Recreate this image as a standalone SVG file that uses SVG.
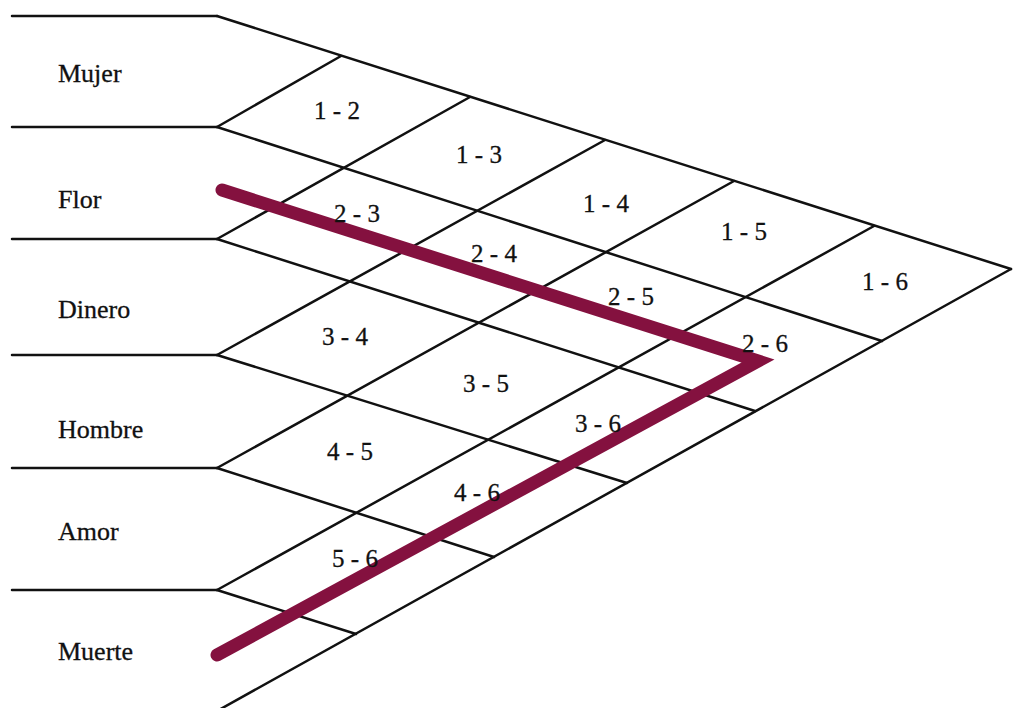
<svg xmlns="http://www.w3.org/2000/svg" width="1013" height="708" viewBox="0 0 1013 708">
<style>
.g line{stroke:#111;stroke-width:2.5;stroke-linecap:round}
.path{fill:none;stroke:#84113f;stroke-width:13;stroke-linecap:round;stroke-linejoin:miter;stroke-miterlimit:10}
.n{font-family:"Liberation Serif","Times New Roman",serif;font-size:26px;fill:#111;stroke:#111;stroke-width:0.3}
.c{font-family:"Liberation Serif","Times New Roman",serif;font-size:25px;fill:#111;stroke:#111;stroke-width:0.3;text-anchor:middle}
</style>
<rect width="1013" height="708" fill="#fff"/>
<g id="connectors" class="g">
<line x1="12" y1="16" x2="217" y2="16"/>
<line x1="12" y1="127" x2="217" y2="127"/>
<line x1="12" y1="239" x2="217" y2="239"/>
<line x1="12" y1="355" x2="217" y2="355"/>
<line x1="12" y1="468" x2="217" y2="468"/>
<line x1="12" y1="590" x2="217" y2="590"/>
<line x1="217" y1="16" x2="1011" y2="269"/>
<line x1="217" y1="127" x2="882" y2="341"/>
<line x1="217" y1="239" x2="755" y2="411"/>
<line x1="217" y1="355" x2="627" y2="483"/>
<line x1="217" y1="468" x2="494" y2="557"/>
<line x1="217" y1="590" x2="356" y2="634"/>
<line x1="217" y1="127" x2="341" y2="56"/>
<line x1="217" y1="239" x2="470" y2="97"/>
<line x1="217" y1="355" x2="605" y2="140"/>
<line x1="217" y1="468" x2="734" y2="181"/>
<line x1="217" y1="590" x2="874" y2="226"/>
<line x1="217" y1="711" x2="1011" y2="269"/>
</g>
<g id="route">
<polyline class="path" points="222,190 758,361 217,655"/>
</g>
<g id="names">
<g id="n-mujer"><text class="n" x="58" y="82">Mujer</text></g>
<g id="n-flor"><text class="n" x="58" y="208">Flor</text></g>
<g id="n-dinero"><text class="n" x="58" y="318">Dinero</text></g>
<g id="n-hombre"><text class="n" x="58" y="438">Hombre</text></g>
<g id="n-amor"><text class="n" x="58" y="540">Amor</text></g>
<g id="n-muerte"><text class="n" x="58" y="660">Muerte</text></g>
</g>
<g id="cells">
<g id="c12"><text class="c" x="337" y="119">1 - 2</text></g>
<g id="c13"><text class="c" x="479" y="163">1 - 3</text></g>
<g id="c14"><text class="c" x="606" y="212">1 - 4</text></g>
<g id="c15"><text class="c" x="744" y="240">1 - 5</text></g>
<g id="c16"><text class="c" x="885" y="290">1 - 6</text></g>
<g id="c23"><text class="c" x="357" y="222">2 - 3</text></g>
<g id="c24"><text class="c" x="494" y="262">2 - 4</text></g>
<g id="c25"><text class="c" x="631" y="305">2 - 5</text></g>
<g id="c26"><text class="c" x="765" y="352">2 - 6</text></g>
<g id="c34"><text class="c" x="345" y="345">3 - 4</text></g>
<g id="c35"><text class="c" x="486" y="392">3 - 5</text></g>
<g id="c36"><text class="c" x="598" y="432">3 - 6</text></g>
<g id="c45"><text class="c" x="350" y="460">4 - 5</text></g>
<g id="c46"><text class="c" x="477" y="501">4 - 6</text></g>
<g id="c56"><text class="c" x="355" y="567">5 - 6</text></g>
</g>
</svg>
